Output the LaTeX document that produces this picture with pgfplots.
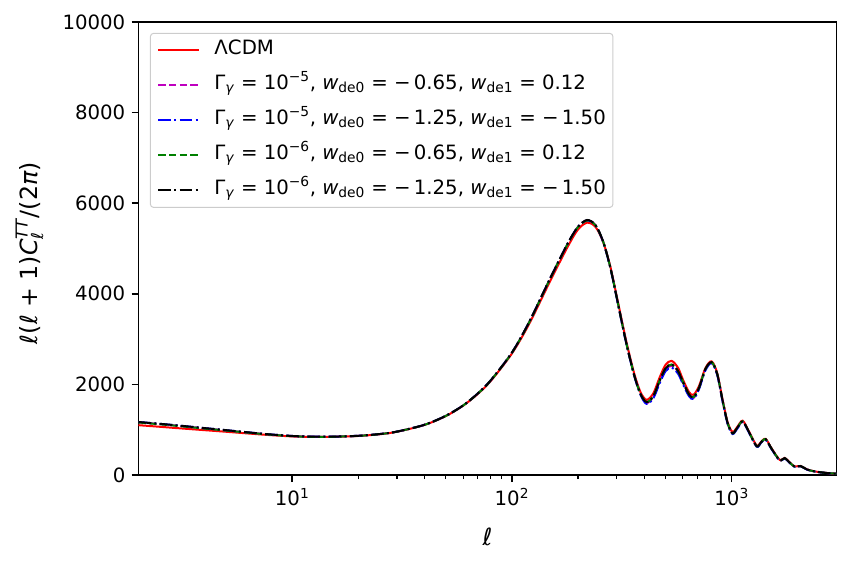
\documentclass[border=0pt]{standalone}
\usepackage{fontspec}
\setmainfont{DejaVu Sans}
\usepackage{pgfplots}
\usepackage{pgfplotstable}
\pgfplotsset{compat=1.18}

% CMB temperature power spectrum D_l = l(l+1)C_l/(2pi) for five models
% columns: multipole, LCDM, G5a (Gamma=1e-5, -0.65, 0.12), G5b (Gamma=1e-5, -1.25, -1.50),
%          G6a (Gamma=1e-6, -0.65, 0.12), G6b (Gamma=1e-6, -1.25, -1.50)
\pgfplotstableread{
l     lcdm  gfa   gfb   gsa   gsb
2     1100  1165  1170  1160  1170
2.5   1065  1125  1130  1120  1130
3     1035  1090  1095  1085  1095
4     990   1030  1035  1025  1035
5     955   985   990   982   990
6     925   948   952   945   952
7     900   918   920   915   920
8     880   893   895   890   895
10    852   860   862   858   862
12    842   846   848   845   848
15    842   845   846   844   846
20    862   865   866   864   866
25    900   903   904   902   904
30    955   958   958   957   958
40    1105  1108  1108  1107  1108
50    1300  1305  1305  1304  1305
60    1530  1535  1535  1534  1535
70    1790  1800  1800  1798  1800
80    2070  2085  2085  2082  2085
100   2680  2700  2700  2697  2700
120   3340  3380  3380  3375  3380
150   4300  4360  4360  4355  4360
180   5050  5120  5120  5115  5120
200   5420  5480  5480  5475  5480
220   5570  5625  5620  5620  5630
240   5480  5520  5515  5515  5520
260   5150  5160  5150  5160  5160
280   4620  4600  4590  4600  4600
300   3950  3920  3910  3920  3920
330   3000  2960  2950  2960  2960
360   2250  2210  2200  2210  2210
385   1830  1790  1770  1790  1790
410   1660  1590  1570  1610  1610
440   1800  1720  1690  1740  1740
470   2150  2060  2020  2080  2080
500   2430  2330  2290  2350  2350
533   2520  2410  2370  2440  2440
570   2370  2280  2240  2300  2300
600   2110  2040  2010  2060  2060
640   1830  1770  1740  1780  1780
671   1770  1700  1680  1720  1720
710   1960  1910  1890  1920  1920
760   2360  2330  2310  2340  2340
811   2510  2480  2470  2490  2490
860   2250  2220  2210  2230  2230
910   1660  1630  1620  1640  1640
960   1160  1130  1120  1140  1140
1010  950   915   905   920   920
1060  1060  1030  1020  1040  1040
1123  1200  1180  1170  1185  1185
1200  960   940   935   945   945
1300  650   630   625   635   635
1360  730   715   710   720   720
1428  800   785   780   790   790
1520  590   575   570   580   580
1655  335   325   320   328   328
1743  378   370   365   372   372
1850  265   260   255   262   262
1937  188   183   180   185   185
2060  200   196   193   198   198
2200  125   122   120   123   123
2400  78    76    75    77    77
2700  46    45    44    45    45
3000  30    30    29    30    30
}\cls

\definecolor{mplm}{rgb}{0.75,0,0.75}
\definecolor{mplg}{rgb}{0,0.5,0}

\tikzset{
  curve/.style={line width=2bp, solid},
  mpldash/.style={line width=2bp, dash pattern=on 7.4bp off 3.2bp},
  mpldashdot/.style={line width=2bp, dash pattern=on 12.8bp off 3.2bp on 2bp off 3.2bp},
}

\newcommand{\ellt}{\textit{ℓ}}
\newcommand{\params}[3]{Γ\textsubscript{\textit{γ}} = 10\textsuperscript{−#1}, \textit{w}\textsubscript{de0} = −\,#2, \textit{w}\textsubscript{de1} = #3}

\begin{document}
\begin{tikzpicture}
\begin{axis}[
  width=698bp, height=453bp, scale only axis,
  xmode=log, xmin=2, xmax=3000,
  ymin=0, ymax=10000,
  ytick={0,2000,4000,6000,8000,10000},
  xtick={10,100,1000},
  xticklabels={10\textsuperscript{1},10\textsuperscript{2},10\textsuperscript{3}},
  /pgf/number format/1000 sep={},
  /pgf/number format/assume math mode=true,
  scaled y ticks=false,
  tick align=outside,
  major tick length=7bp, minor tick length=4bp,
  every tick/.style={black, line width=1.5bp},
  every minor tick/.style={black, line width=1.1bp},
  xtick pos=bottom, ytick pos=left,
  axis line style={line width=1.5bp},
  tick label style={font=\fontsize{19.8}{22}\selectfont},
  yticklabel style={inner sep=0bp, xshift=-6bp},
  xticklabel style={inner sep=0bp, yshift=-6bp},
  xlabel={\ellt},
  ylabel={\ellt(\ellt\ + 1)\textit{C}\rlap{\raisebox{-0.45ex}{\fontsize{16.5}{18}\selectfont\ellt}}\raisebox{0.75ex}{\fontsize{16.5}{18}\selectfont\textit{TT}}/(2\textit{π})},
  label style={font=\fontsize{23.8}{26}\selectfont},
  xlabel style={at={(axis description cs:0.5,-0.137)}, anchor=center},
  ylabel style={at={(axis description cs:-0.156,0.49)}, anchor=center},
  legend cell align=left,
  legend style={
    at={(axis description cs:0.0165,0.976)}, anchor=north west,
    draw=black!20, line width=1bp, rounded corners=3bp,
    fill=white, fill opacity=0.8, text opacity=1,
    font=\fontsize{19.8}{22}\selectfont,
    inner xsep=7bp, inner ysep=5bp,
    row sep=11bp, column sep=14bp,
    nodes={inner sep=0bp, text height=16bp, text depth=8bp},
  },
  legend image code/.code={\draw[#1] (0bp,0bp) -- (41bp,0bp);},
]
\addplot[red, curve, smooth] table[x=l, y=lcdm] {\cls};
\addlegendentry{ΛCDM}
\addplot[mplm, mpldash, smooth] table[x=l, y=gfa] {\cls};
\addlegendentry{\params{5}{0.65}{0.12}}
\addplot[blue, mpldashdot, smooth] table[x=l, y=gfb] {\cls};
\addlegendentry{\params{5}{1.25}{−\,1.50}}
\addplot[mplg, mpldash, smooth] table[x=l, y=gsa] {\cls};
\addlegendentry{\params{6}{0.65}{0.12}}
\addplot[black, mpldashdot, smooth] table[x=l, y=gsb] {\cls};
\addlegendentry{\params{6}{1.25}{−\,1.50}}
\coordinate (bl) at (rel axis cs:-0.1984,-0.1987);
\coordinate (tr) at (rel axis cs:1.0337,1.0486);
\end{axis}
\pgfresetboundingbox
\path[use as bounding box] (bl) rectangle (tr);
\end{tikzpicture}
\end{document}
